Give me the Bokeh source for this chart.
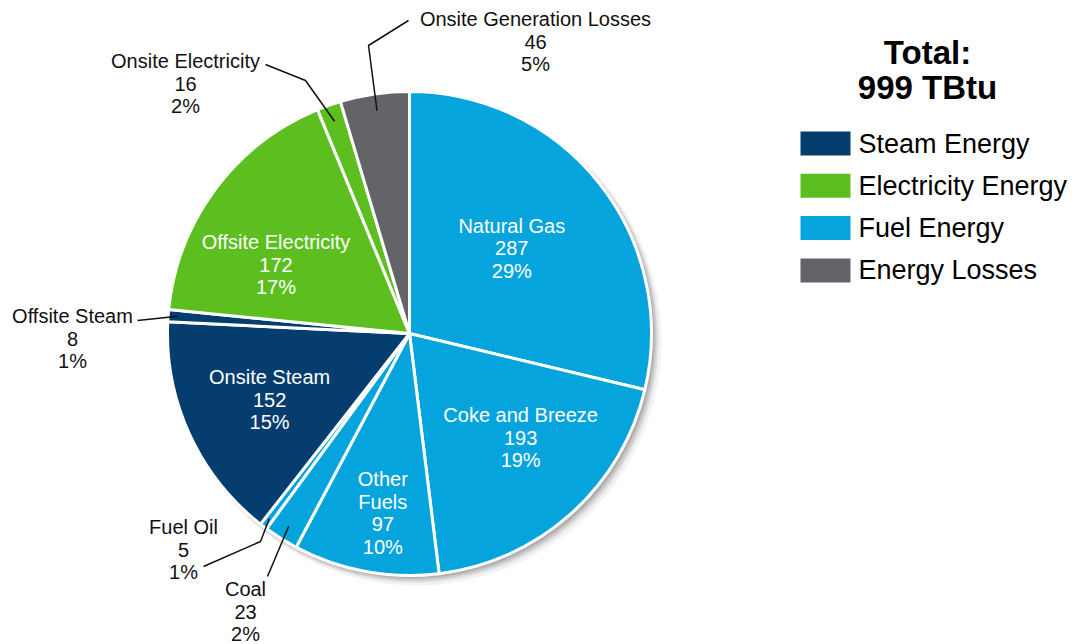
import numpy as np
from bokeh.plotting import figure
from bokeh.models import Range1d
from bokeh.core.properties import value
from bokeh.embed import file_html
from bokeh.resources import INLINE

# ---------------- data ----------------
categories = ["Natural Gas", "Coke and Breeze", "Other Fuels", "Coal", "Fuel Oil",
              "Onsite Steam", "Offsite Steam", "Offsite Electricity",
              "Onsite Electricity", "Onsite Generation Losses"]
label_names = [["Natural Gas"], ["Coke and Breeze"], ["Other", "Fuels"], ["Coal"], ["Fuel Oil"],
               ["Onsite Steam"], ["Offsite Steam"], ["Offsite Electricity"],
               ["Onsite Electricity"], ["Onsite Generation Losses"]]
values = [287, 193, 97, 23, 5, 152, 8, 172, 16, 46]
percents = ["29%", "19%", "10%", "2%", "1%", "15%", "1%", "17%", "2%", "5%"]
groups = ["Fuel Energy", "Fuel Energy", "Fuel Energy", "Fuel Energy", "Fuel Energy",
          "Steam Energy", "Steam Energy", "Electricity Energy", "Electricity Energy",
          "Energy Losses"]
legend_labels = ["Steam Energy", "Electricity Energy", "Fuel Energy", "Energy Losses"]
title_lines = ["Total:", "999 TBtu"]

# ---------------- style ----------------
group_colors = {"Steam Energy": "#043d6e", "Electricity Energy": "#5cbf1f",
                "Fuel Energy": "#06a4dc", "Energy Losses": "#636468"}
FONT = "Liberation Sans"
W, H = 1073, 644
LINE = 22.5


def Y(py):
    return H - py


p = figure(width=W, height=H, x_range=Range1d(0, W), y_range=Range1d(0, H),
           output_backend="svg", toolbar_location=None, min_border=0)
p.axis.visible = False
p.grid.visible = False
p.outline_line_color = None
p.background_fill_color = "white"
p.border_fill_color = "white"

CX, CY, R = 409, Y(333), 242

vals = np.array(values, dtype=float)
T = vals.sum()
cum = np.concatenate([[0], np.cumsum(vals)])
th0 = cum[:-1] / T * 2 * np.pi
th1 = cum[1:] / T * 2 * np.pi
start = np.pi / 2 - th1
end = np.pi / 2 - th0
mid = np.pi / 2 - (th0 + th1) / 2

# shadow
for d, rr, a in [(7, 3, 0.05), (5, 2, 0.08), (4, 1, 0.10), (3, 0, 0.12)]:
    p.circle(x=CX + d, y=CY - d, radius=R + rr, fill_color="black", fill_alpha=a,
             line_color=None)

colors = [group_colors[g] for g in groups]
p.wedge(x=CX, y=CY, radius=R, start_angle=list(start), end_angle=list(end),
        direction="anticlock", fill_color=colors, line_color="white", line_width=3)


def block(x, yc_data, lines, color, size="20px", style="normal", spacing=LINE, align="center"):
    n = len(lines)
    ys = [yc_data + ((n - 1) / 2 - k) * spacing for k in range(n)]
    p.text(x=[x] * n, y=ys, text=lines, text_font=value(FONT), text_font_size=size,
           text_font_style=style, text_color=color, text_align=align,
           text_baseline="middle")


# inside labels: (radius fraction, angle offset in degrees)
inside = {0: (0.55, 1.5), 1: (0.63, 5.0), 2: (0.75, 2.0), 5: (0.64, 0.8), 7: (0.62, 9.5)}
for i, (f, da) in inside.items():
    a = mid[i] + np.radians(da)
    block(CX + f * R * np.cos(a), CY + f * R * np.sin(a),
          label_names[i] + [str(values[i]), percents[i]], "white")

# outside labels with leader lines (bend points in pixel coords)
outside = {
    6: ((72, 338), [(137, 320)], 0.96),
    4: ((183, 549), [(203, 566), (260, 541)], 0.96),
    3: ((245, 611), [(267, 576)], 0.94),
    8: ((185, 83), [(265, 64), (305, 80)], 0.93),
    9: ((535, 41), [(408, 20), (368, 45)], 0.93),
}
for i, ((lx, ly), pts, f) in outside.items():
    block(lx, Y(ly), label_names[i] + [str(values[i]), percents[i]], "#111111")
    xs = [q[0] for q in pts] + [CX + f * R * np.cos(mid[i])]
    ys = [Y(q[1]) for q in pts] + [CY + f * R * np.sin(mid[i])]
    p.line(xs, ys, line_color="#111111", line_width=1.5)

# title
block(927, Y(69.5), title_lines, "black", size="33px", style="bold", spacing=35)

# legend
for k, lab in enumerate(legend_labels):
    yc = Y(143 + k * 42.3)
    p.rect(x=[825], y=[yc], width=50, height=24, fill_color=group_colors[lab],
           line_color=None)
    p.text(x=[858], y=[yc], text=[lab], text_font=value(FONT), text_font_size="27px",
           text_color="black", text_align="left", text_baseline="middle")

open("out.html", "w").write(file_html(p, INLINE))
